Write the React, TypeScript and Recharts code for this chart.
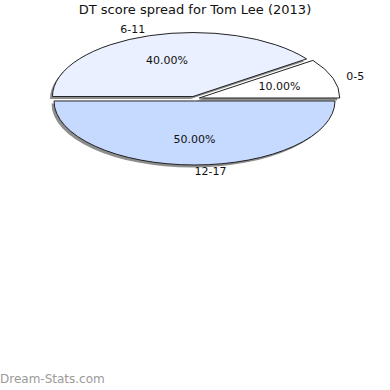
import { PieChart, Pie, Cell } from 'recharts'

const categories = ['0-5', '6-11', '12-17']
const shares = [10, 40, 50]
const sliceColors = ['#ffffff', '#eaf0ff', '#c6d9fe']

const chartData = categories.map((name, i) => ({ name, value: shares[i] }))

const FONT = '"DejaVu Sans", Verdana, sans-serif'
const RAD = Math.PI / 180
// the pie is drawn flattened, like the original 3D-ish look
const SQUASH = 64 / 140.5
const EXPLODE = 5

function offsetFor(mid: number) {
  return [EXPLODE * Math.cos(mid * RAD), -EXPLODE * SQUASH * Math.sin(mid * RAD)]
}

function ellipse(cx: number, cy: number, r: number, ang: number) {
  return [cx + r * Math.cos(ang * RAD), cy - r * SQUASH * Math.sin(ang * RAD)]
}

function slicePath(cx: number, cy: number, r: number, start: number, end: number) {
  const [x1, y1] = ellipse(cx, cy, r, start)
  const [x2, y2] = ellipse(cx, cy, r, end)
  const large = end - start > 180 ? 1 : 0
  return `M${cx},${cy} L${x1},${y1} A${r},${r * SQUASH} 0 ${large} 0 ${x2},${y2} Z`
}

const renderSlice = (props: any) => {
  const { cx, cy, outerRadius, startAngle, endAngle, midAngle, fill } = props
  const [ox, oy] = offsetFor(midAngle)
  const d = slicePath(cx + ox, cy + oy, outerRadius, startAngle, endAngle)
  return (
    <g>
      <path d={d} fill="#8e8e8e" transform="translate(-2.5,2.5)" />
      <path d={d} fill={fill} stroke="#222" strokeWidth={1} />
    </g>
  )
}

const renderLabel = (props: any) => {
  const { cx, cy, outerRadius, midAngle, percent, name } = props
  const [ox, oy] = offsetFor(midAngle)
  const [px, py] = ellipse(cx + ox, cy + oy, outerRadius * 0.6, midAngle)
  const [nx, ny] = ellipse(cx + ox, cy + oy, outerRadius * 1.1, midAngle)
  const anchor = Math.cos(midAngle * RAD) < -0.01 ? 'end' : 'start'
  return (
    <g fontFamily={FONT} fontSize={11} fill="#111">
      <text x={px} y={py} textAnchor="middle" dominantBaseline="central">
        {(percent * 100).toFixed(2)}%
      </text>
      <text x={nx} y={ny} textAnchor={anchor} dominantBaseline="central">
        {name}
      </text>
    </g>
  )
}

export default function App() {
  return (
    <div style={{ position: 'absolute', left: 0, top: 0, width: 390, height: 390, background: '#fff' }}>
      <div
        style={{
          position: 'absolute',
          top: 1,
          width: 390,
          textAlign: 'center',
          fontFamily: FONT,
          fontSize: 13,
          lineHeight: '18px',
          color: '#111',
        }}
      >
        DT score spread for Tom Lee (2013)
      </div>
      <PieChart
        width={390}
        height={390}
        margin={{ top: 0, right: 0, bottom: 0, left: 0 }}
        style={{ position: 'absolute', left: 0, top: 0 }}
      >
        <Pie
          data={chartData}
          dataKey="value"
          nameKey="name"
          cx={194.5}
          cy={98.7}
          outerRadius={140.5}
          startAngle={0}
          endAngle={360}
          stroke="none"
          shape={renderSlice}
          label={renderLabel}
          labelLine={false}
          isAnimationActive={false}
        >
          {chartData.map((d, i) => (
            <Cell key={d.name} fill={sliceColors[i]} />
          ))}
        </Pie>
      </PieChart>
      <div
        style={{
          position: 'absolute',
          left: 0,
          top: 372,
          fontFamily: FONT,
          fontSize: 12,
          color: '#9a9a9a',
        }}
      >
        Dream-Stats.com
      </div>
    </div>
  )
}
